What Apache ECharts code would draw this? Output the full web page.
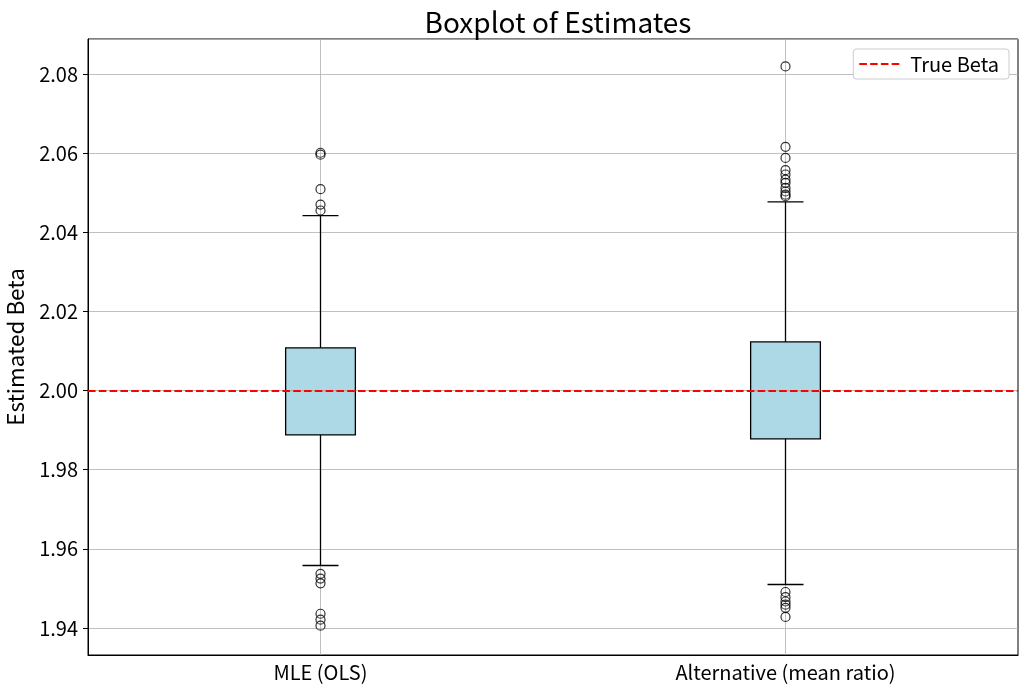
<!DOCTYPE html>
<html>
<head>
<meta charset="utf-8">
<script src="https://cdn.jsdelivr.net/npm/echarts@6/dist/echarts.min.js"></script>
<style>html,body{margin:0;padding:0;background:#fff;}#c{width:1028px;height:693px;}</style>
</head>
<body>
<div id="c"></div>
<script>
const categories = ['MLE (OLS)', 'Alternative (mean ratio)'];
// [whiskerLow, Q1, median, Q3, whiskerHigh]
const boxMLE = [1.9558, 1.9888, 2.0000, 2.0108, 2.0442];
const boxAlt = [1.9510, 1.9878, 2.0000, 2.0123, 2.0477];
const outliersMLE = [2.0601, 2.0596, 2.0509, 2.0470, 2.0455, 1.9537, 1.9525, 1.9513, 1.9436, 1.9421, 1.9406];
const outliersAlt = [2.0819, 2.0616, 2.0588, 2.0557, 2.0546, 2.0533, 2.0525, 2.0512, 2.0503, 2.0495, 2.0491,
                     1.9491, 1.9478, 1.9467, 1.9459, 1.9451, 1.9428];
const trueBeta = 2.0;
const yMin = 1.93318, yMax = 2.08884;

const FONT = 'Noto Sans CJK JP';
const chart = echarts.init(document.getElementById('c'));

const boxData = [[0].concat(boxMLE), [1].concat(boxAlt)];
const outData = outliersMLE.map(v => [0, v]).concat(outliersAlt.map(v => [1, v]));

function renderBox(params, api) {
  const x = api.value(0);
  const lo = api.coord([x, api.value(1)]);
  const q1 = api.coord([x, api.value(2)]);
  const md = api.coord([x, api.value(3)]);
  const q3 = api.coord([x, api.value(4)]);
  const hi = api.coord([x, api.value(5)]);
  const cs = params.coordSys;
  const band = api.size([1, 0])[0];
  const bw = band * 0.15;
  const cw = band * 0.0774;
  const cx = lo[0];
  const ls = {stroke: '#000', lineWidth: 1.3};
  return {
    type: 'group',
    children: [
      {type: 'line', shape: {x1: cx, y1: cs.y, x2: cx, y2: cs.y + cs.height}, style: {stroke: '#b0b0b0', lineWidth: 0.8}},
      {type: 'line', shape: {x1: cx, y1: hi[1], x2: cx, y2: q3[1]}, style: ls},
      {type: 'line', shape: {x1: cx, y1: q1[1], x2: cx, y2: lo[1]}, style: ls},
      {type: 'line', shape: {x1: cx - cw / 2, y1: hi[1], x2: cx + cw / 2, y2: hi[1]}, style: ls},
      {type: 'line', shape: {x1: cx - cw / 2, y1: lo[1], x2: cx + cw / 2, y2: lo[1]}, style: ls},
      {type: 'rect', shape: {x: cx - bw / 2, y: q3[1], width: bw, height: q1[1] - q3[1]},
       style: {fill: '#add8e6', stroke: '#000', lineWidth: 1.3}},
      {type: 'line', shape: {x1: cx - bw / 2, y1: md[1], x2: cx + bw / 2, y2: md[1]},
       style: {stroke: '#b0b0b0', lineWidth: 1.2}}
    ]
  };
}

const dashIcon = 'path://M0,0L7.6,0L7.6,2L0,2Z M10.8,0L18.4,0L18.4,2L10.8,2Z M21.6,0L29.2,0L29.2,2L21.6,2Z M32.4,0L40,0L40,2L32.4,2Z';

chart.setOption({
  animation: false,
  backgroundColor: '#fff',
  textStyle: {fontFamily: FONT},
  title: {
    text: 'Boxplot of Estimates', left: 553, textAlign: 'center', top: 3,
    textStyle: {fontFamily: FONT, fontSize: 28, fontWeight: 'normal', color: '#000'}
  },
  legend: {
    right: 19, top: 49,
    data: [{name: 'True Beta', icon: dashIcon}],
    itemWidth: 40, itemHeight: 2, itemGap: 10,
    padding: [5, 10, 5, 6],
    borderColor: '#cccccc', borderWidth: 1, borderRadius: 3,
    backgroundColor: '#fff',
    itemStyle: {color: '#ff0000'},
    textStyle: {fontFamily: FONT, fontSize: 20, color: '#000', padding: [0, 0, 0, 6]}
  },
  grid: {left: 88, right: 10, top: 39, bottom: 38, outerBoundsMode: 'none', containLabel: false,
         show: true, borderColor: '#000', borderWidth: 1, backgroundColor: 'transparent'},
  xAxis: {
    type: 'category', data: categories, boundaryGap: true,
    axisLine: {lineStyle: {color: '#000'}},
    axisTick: {alignWithLabel: true, length: 5, lineStyle: {color: '#000'}},
    axisLabel: {fontFamily: FONT, fontSize: 20, color: '#000', margin: 7},
    splitLine: {show: false}
  },
  yAxis: {
    type: 'value', min: yMin, max: yMax, splitNumber: 7,
    name: 'Estimated Beta', nameLocation: 'middle', nameGap: 61, nameRotate: 90,
    nameTextStyle: {fontFamily: FONT, fontSize: 22.4, color: '#000'},
    axisLine: {show: true, lineStyle: {color: '#000'}},
    axisTick: {show: true, length: 5, lineStyle: {color: '#000'}},
    axisLabel: {fontFamily: FONT, fontSize: 20, color: '#000', margin: 10, showMinLabel: false, showMaxLabel: false,
      formatter: v => v.toFixed(2)},
    splitLine: {show: true, lineStyle: {color: '#b0b0b0', width: 0.8}}
  },
  series: [
    {
      name: 'boxes', type: 'custom', renderItem: renderBox, data: boxData, z: 2,
      encode: {x: 0, y: [1, 2, 3, 4, 5]}
    },
    {
      name: 'outliers', type: 'scatter', data: outData, z: 3,
      symbol: 'circle', symbolSize: 9,
      itemStyle: {color: 'rgba(0,0,0,0)', borderColor: '#000', borderWidth: 1.2}
    },
    {
      name: 'True Beta', type: 'line', data: [], z: 5,
      symbol: 'none', showSymbol: false,
      color: '#ff0000',
      lineStyle: {color: '#ff0000', width: 2, type: [7.6, 3.2]},
      markLine: {
        silent: true, symbol: 'none', animation: false,
        label: {show: false},
        lineStyle: {color: '#ff0000', width: 2, type: [7.6, 3.2]},
        data: [{yAxis: trueBeta}]
      }
    }
  ]
});
</script>
</body>
</html>
